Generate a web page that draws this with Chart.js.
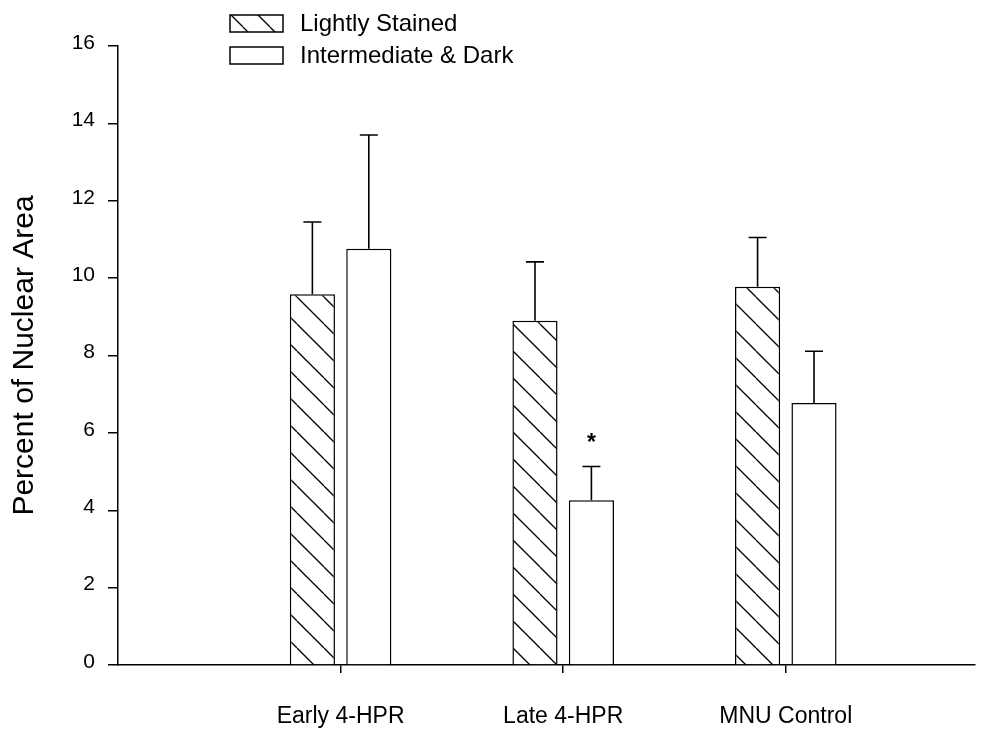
<!DOCTYPE html>
<html>
<head>
<meta charset="utf-8">
<script src="https://cdn.jsdelivr.net/npm/chart.js@4.4.1/dist/chart.umd.min.js"></script>
<style>
  html, body { margin: 0; padding: 0; background: #ffffff; }
  #wrap { width: 1001px; height: 731px; }
</style>
</head>
<body>
<div id="wrap"><canvas id="c" width="1001" height="731"></canvas></div>
<script>
// ---- data ----
const categories = ['Early 4-HPR', 'Late 4-HPR', 'MNU Control'];
const seriesNames = ['Lightly Stained', 'Intermediate & Dark'];
const lightly = [9.58, 8.9, 9.78];
const lightlyErr = [1.87, 1.52, 1.27];
const dark = [10.76, 4.26, 6.77];
const darkErr = [2.94, 0.87, 1.34];
const darkMarks = ['', '*', ''];
const yTicks = [0, 2, 4, 6, 8, 10, 12, 14, 16];

const FONT = '"Liberation Sans", Arial, Helvetica, sans-serif';

function makeHatch() {
  const s = 27;
  const t = document.createElement('canvas');
  t.width = s; t.height = s;
  const g = t.getContext('2d');
  g.fillStyle = '#ffffff';
  g.fillRect(0, 0, s, s);
  g.strokeStyle = '#000000';
  g.lineWidth = 1.3;
  for (const k of [-s, 0, s]) {
    g.beginPath();
    g.moveTo(k, 0);
    g.lineTo(k + s, s);
    g.stroke();
  }
  return document.getElementById('c').getContext('2d').createPattern(t, 'repeat');
}
const hatch = makeHatch();

const errorBars = {
  id: 'errorBars',
  afterDatasetsDraw(chart) {
    const ctx = chart.ctx;
    const ys = chart.scales.y;
    ctx.save();
    ctx.strokeStyle = '#000';
    ctx.lineWidth = 1.6;
    chart.data.datasets.forEach((ds, di) => {
      const meta = chart.getDatasetMeta(di);
      meta.data.forEach((bar, i) => {
        const v = ds.data[i].y;
        const top = ys.getPixelForValue(v + ds.errors[i]);
        ctx.beginPath();
        ctx.moveTo(bar.x, bar.y);
        ctx.lineTo(bar.x, top);
        ctx.moveTo(bar.x - 9, top);
        ctx.lineTo(bar.x + 9, top);
        ctx.stroke();
        if (ds.marks && ds.marks[i]) {
          ctx.fillStyle = '#000';
          ctx.font = 'bold 23px ' + FONT;
          ctx.textAlign = 'center';
          ctx.textBaseline = 'alphabetic';
          ctx.fillText(ds.marks[i], bar.x, top - 17);
        }
      });
    });
    ctx.restore();
  }
};

const customLegend = {
  id: 'customLegend',
  afterDraw(chart) {
    const ctx = chart.ctx;
    const left = chart.chartArea.left + 112;
    ctx.save();
    chart.data.datasets.forEach((ds, i) => {
      const top = 15 + i * 32;
      ctx.fillStyle = ds.backgroundColor;
      ctx.fillRect(left, top, 53, 17);
      ctx.strokeStyle = '#000';
      ctx.lineWidth = 1.5;
      ctx.strokeRect(left, top, 53, 17);
      ctx.fillStyle = '#000';
      ctx.font = '24px ' + FONT;
      ctx.textAlign = 'left';
      ctx.textBaseline = 'middle';
      ctx.fillText(ds.label, left + 70, top + 9);
    });
    ctx.restore();
  }
};

new Chart(document.getElementById('c'), {
  type: 'bar',
  data: {
    datasets: [
      {
        label: seriesNames[0],
        data: categories.map((c, i) => ({ x: i + 1, y: lightly[i] })),
        errors: lightlyErr,
        backgroundColor: hatch,
        borderColor: '#000',
        borderWidth: 1.5
      },
      {
        label: seriesNames[1],
        data: categories.map((c, i) => ({ x: i + 1, y: dark[i] })),
        errors: darkErr,
        marks: darkMarks,
        backgroundColor: '#ffffff',
        borderColor: '#000',
        borderWidth: 1.5
      }
    ]
  },
  options: {
    responsive: false,
    animation: false,
    devicePixelRatio: 1,
    categoryPercentage: 0.507,
    barPercentage: 0.8,
    layout: { padding: { left: 0, right: 26, top: 46, bottom: 0 } },
    plugins: { legend: { display: false }, tooltip: { enabled: false } },
    scales: {
      x: {
        type: 'linear',
        min: 0,
        max: 3.85,
        offset: false,
        afterBuildTicks(scale) { scale.ticks = categories.map((c, i) => ({ value: i + 1 })); },
        afterFit(scale) { scale.height = 66; },
        grid: { offset: false, drawOnChartArea: false, drawTicks: true, tickLength: 8, color: '#000', lineWidth: 1.5 },
        border: { color: '#000', width: 1.5 },
        ticks: {
          padding: 30,
          color: '#000',
          font: { family: FONT, size: 23 },
          maxRotation: 0,
          autoSkip: false,
          callback: (v) => categories[v - 1] || ''
        }
      },
      y: {
        min: 0,
        max: 16,
        afterBuildTicks(scale) { scale.ticks = yTicks.map(v => ({ value: v })); },
        afterFit(scale) { scale.width = 118; },
        grid: { drawOnChartArea: false, drawTicks: true, tickLength: 10, color: '#000', lineWidth: 1.5 },
        border: { color: '#000', width: 1.5 },
        ticks: {
          padding: 13,
          color: '#000',
          font: { family: FONT, size: 21 },
          labelOffset: -3
        },
        title: {
          display: true,
          text: 'Percent of Nuclear Area',
          color: '#000',
          font: { family: FONT, size: 30 },
          padding: { top: 7, bottom: 0 }
        }
      }
    }
  },
  plugins: [errorBars, customLegend]
});
</script>
</body>
</html>
